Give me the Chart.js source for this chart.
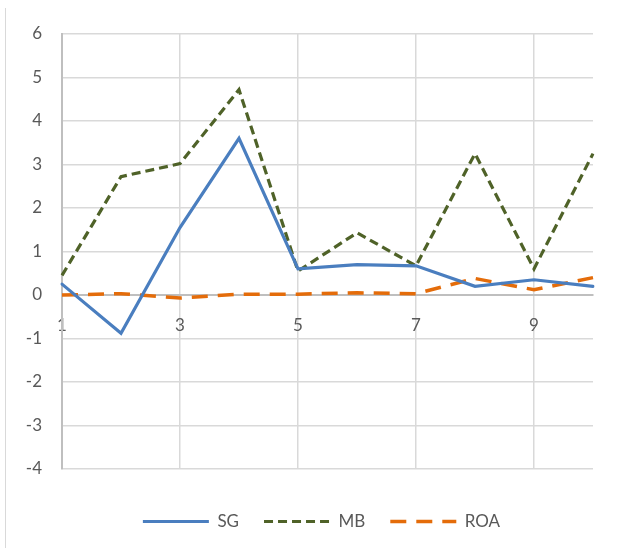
<!DOCTYPE html>
<html><head><meta charset="utf-8">
<script src="https://cdn.jsdelivr.net/npm/chart.js@4/dist/chart.umd.min.js"></script>
<style>
html,body{margin:0;padding:0;background:#fff;}
#wrap{position:relative;width:626px;height:548px;}
#frame{position:absolute;left:5px;top:8px;bottom:0;border-left:1.5px solid #d9d9d9;}
canvas{position:absolute;left:0;top:0;}
</style></head>
<body><div id="wrap"><div id="frame"></div><canvas id="c" width="626" height="548"></canvas></div>
<script>
const categories = [1,2,3,4,5,6,7,8,9,10];
const sgValues  = [0.25,-0.88,1.55,3.6,0.6,0.7,0.67,0.2,0.35,0.2];
const mbValues  = [0.45,2.72,3.02,4.72,0.55,1.43,0.67,3.25,0.6,3.25];
const roaValues = [0.0,0.03,-0.07,0.02,0.02,0.05,0.03,0.38,0.12,0.4];
const yTicks = [-4,-3,-2,-1,0,1,2,3,4,5,6];

const FONT = 'Lato, "Open Sans", sans-serif';

const legendShift = {
  id:'legendShift',
  beforeInit(chart){
    const lg = chart.legend;
    if (!lg) return;
    const od = lg.draw.bind(lg);
    lg.draw = function(){ const ctx=this.ctx; ctx.save(); ctx.translate(19,19); od(); ctx.restore(); };
  }
};

new Chart(document.getElementById('c'), {
  type: 'line',
  data: {
    labels: categories,
    datasets: [
      {label:'SG', data: sgValues, borderColor:'#4a7ebf', borderWidth:3.2, pointRadius:0, tension:0, borderCapStyle:'round'},
      {label:'MB', data: mbValues, borderColor:'#4f6228', borderWidth:3.2, borderDash:[9,5], pointRadius:0, tension:0},
      {label:'ROA', data: roaValues, borderColor:'#e46c0a', borderWidth:3.5, borderDash:[16,10], pointRadius:0, tension:0}
    ]
  },
  plugins:[legendShift],
  options: {
    responsive:false, animation:false,
    layout:{padding:{left:12,top:34,right:33,bottom:27}},
    plugins:{
      legend:{position:'bottom',
        labels:{usePointStyle:true,pointStyle:'line',pointStyleWidth:66,color:'#595959',
          font:{family:FONT,size:17},padding:25,
          generateLabels:(chart)=>{
            const items = Chart.defaults.plugins.legend.labels.generateLabels(chart);
            items.forEach((it,i)=>{
              const ds = chart.data.datasets[i];
              it.lineDash = ds.borderDash || [];
              it.strokeStyle = ds.borderColor;
              it.fillStyle = ds.borderColor;
              it.lineWidth = ds.borderWidth;
              it.lineCap = 'butt';
              it.pointStyle = 'line';
            });
            return items;
          }}},
      tooltip:{enabled:false}
    },
    scales:{
      x:{type:'category', position:{y:0}, offset:false,
        grid:{color:(c)=> (c.index%2===0 && c.index<categories.length-1) ? (c.index===0?'#bfbfbf':'#d9d9d9') : 'rgba(0,0,0,0)', lineWidth:1.5, drawTicks:false},
        border:{color:'#bfbfbf', width:2},
        ticks:{autoSkip:false, maxRotation:0, padding:20, color:'#595959', font:{family:FONT,size:17},
          callback:(v,i)=> i%2===0 ? categories[i] : ''}
      },
      y:{min:-4,max:6,
        afterBuildTicks:(s)=>{s.ticks = yTicks.map(v=>({value:v}));},
        afterFit:(s)=>{s.width = 50;},
        grid:{color:(c)=> c.tick && c.tick.value===0 ? 'rgba(0,0,0,0)' : '#d9d9d9', lineWidth:1.5, drawTicks:false},
        border:{color:'#bfbfbf', width:2},
        ticks:{padding:20, color:'#595959', font:{family:FONT,size:17}}
      }
    }
  }
});
</script>
</body></html>
